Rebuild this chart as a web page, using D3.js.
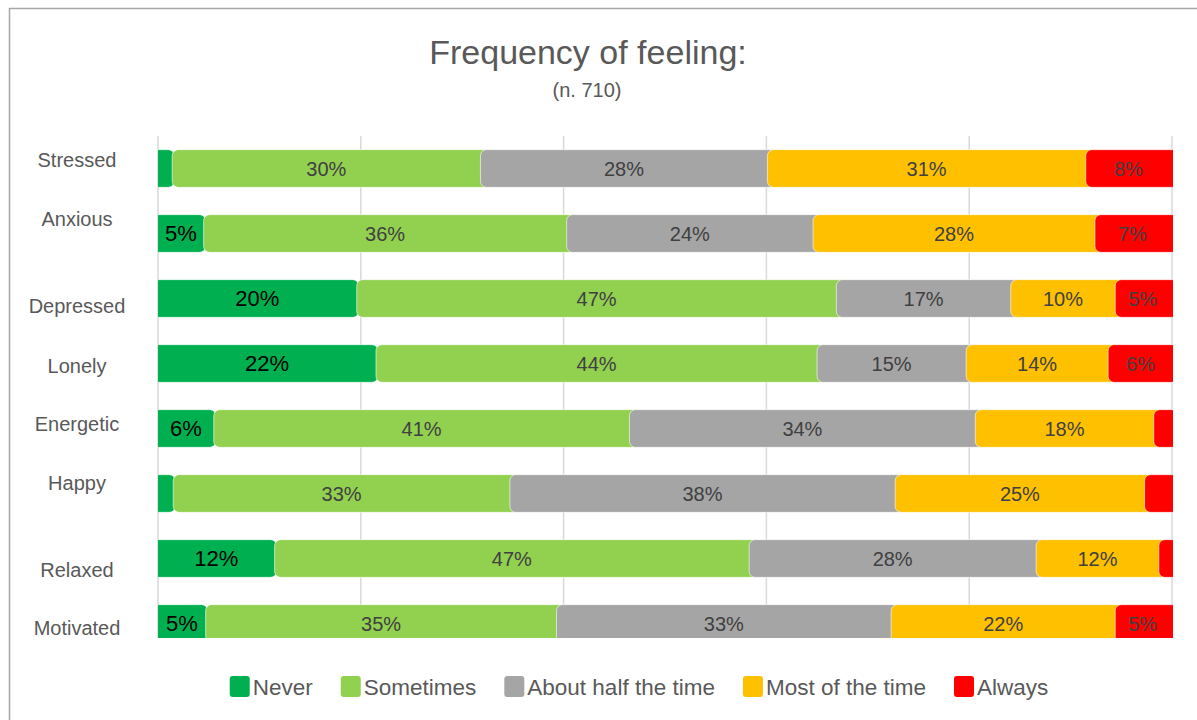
<!DOCTYPE html>
<head>
  <meta charset="utf-8">
  <script src="https://d3js.org/d3.v7.min.js"></script>
  <style>
  body { margin: 0; background: #fff; }
  #chart text { font-family: "Liberation Sans", Arial, sans-serif; }
  </style>
</head>

<body>
  <svg id="chart"></svg>
  <script>

    var feelings = ["Stressed", "Anxious", "Depressed", "Lonely", "Energetic", "Happy", "Relaxed", "Motivated"];
    var answers = ["Never", "Sometimes", "About half the time", "Most of the time", "Always"];

    // percent of respondents, one array per answer (same order as feelings)
    var never       = [1.4, 4.5, 19.6, 21.5, 5.5, 1.5, 11.5, 4.7];
    var sometimes   = [30.4, 35.8, 47.3, 43.5, 41.0, 33.2, 46.8, 34.6];
    var halfTime    = [28.3, 24.3, 17.2, 14.7, 34.1, 38.0, 28.3, 33.0];
    var mostOfTime  = [31.4, 27.8, 10.3, 14.0, 17.6, 24.6, 12.1, 22.1];
    var always      = [8.4, 7.4, 5.4, 6.4, 1.9, 2.7, 1.4, 5.4];

    var gridTicks = [0, 20, 40, 60, 80, 100];

    var colors = ["#00B050", "#92D050", "#A5A5A5", "#FFC000", "#FF0000"];
    var labelColors = ["#000000", "#404040", "#404040", "#404040", "#404040"];
    var labelSizes = ["22px", "20px", "20px", "20px", "20px"];
    // the category labels are not centred on their bars in the original
    var labelShift = [-9, -15, 7, 2, -5, -11, 11, 4];

    var width = 1197, height = 720;
    var svg = d3.select("#chart").attr("width", width).attr("height", height);

    var rows = feelings.map(function(f, i) {
      var r = { feeling: f };
      r[answers[0]] = never[i];
      r[answers[1]] = sometimes[i];
      r[answers[2]] = halfTime[i];
      r[answers[3]] = mostOfTime[i];
      r[answers[4]] = always[i];
      return r;
    });
    var series = d3.stack().keys(answers)(rows);

    var x = d3.scaleLinear().domain([0, 100]).range([158, 1172]);
    var y = d3.scaleBand().domain(feelings).range([136, 656])
        .paddingInner(0.42).paddingOuter(0.21);

    // outer chart border (only left/top visible)
    svg.append("rect")
        .attr("x", 9.5).attr("y", 8.5)
        .attr("width", 1300).attr("height", 800)
        .attr("fill", "none").attr("stroke", "#a6a6a6").attr("stroke-width", 1.5);

    svg.append("text")
        .attr("x", 588).attr("y", 64)
        .attr("text-anchor", "middle")
        .style("font-size", "34px").attr("fill", "#595959")
        .text("Frequency of feeling:");
    svg.append("text")
        .attr("x", 587).attr("y", 97)
        .attr("text-anchor", "middle")
        .style("font-size", "20px").attr("fill", "#595959")
        .text("(n. 710)");

    var clipTop = 136, clipBottom = 638;
    svg.append("clipPath").attr("id", "plot")
      .append("rect")
        .attr("x", x(0)).attr("y", clipTop)
        .attr("width", 1173 - x(0)).attr("height", clipBottom - clipTop);

    svg.append("g").selectAll("line")
        .data(gridTicks)
      .enter().append("line")
        .attr("x1", function(d) { return x(d); })
        .attr("x2", function(d) { return x(d); })
        .attr("y1", clipTop).attr("y2", clipBottom)
        .attr("stroke", "#d9d9d9").attr("stroke-width", 1.5);

    var plot = svg.append("g").attr("clip-path", "url(#plot)");

    var layer = plot.selectAll("g.layer")
        .data(series)
      .enter().append("g")
        .attr("class", "layer")
        .attr("fill", function(d, i) { return colors[i]; });

    // each segment runs a little under the next one so the rounded corners show
    layer.selectAll("rect")
        .data(function(d) { return d; })
      .enter().append("rect")
        .attr("x", function(d) { return d[0] === 0 ? x(0) - 10 : x(d[0]); })
        .attr("y", function(d) { return y(d.data.feeling); })
        .attr("width", function(d) { return x(d[1]) - x(d[0]) + 12; })
        .attr("height", y.bandwidth())
        .attr("rx", 6)
        .attr("stroke", "rgba(255,255,255,0.6)")
        .attr("stroke-width", 1);

    var labels = svg.append("g");
    series.forEach(function(s, si) {
      labels.selectAll(null)
          .data(s.filter(function(d) { return d[1] - d[0] >= 3; }))
        .enter().append("text")
          .attr("x", function(d) { return (x(d[0]) + x(d[1])) / 2; })
          .attr("y", function(d) { return y(d.data.feeling) + y.bandwidth() / 2; })
          .attr("dy", "0.36em")
          .attr("text-anchor", "middle")
          .style("font-size", labelSizes[si])
          .attr("fill", labelColors[si])
          .text(function(d) { return Math.round(d[1] - d[0]) + "%"; });
    });

    svg.append("g").selectAll("text")
        .data(feelings)
      .enter().append("text")
        .attr("x", 77)
        .attr("y", function(d, i) { return y(d) + y.bandwidth() / 2 + labelShift[i]; })
        .attr("dy", "0.36em")
        .attr("text-anchor", "middle")
        .style("font-size", "20px")
        .attr("fill", "#595959")
        .text(function(d) { return d; });

    // legend, centred under the chart
    var legend = svg.append("g");
    var item = legend.selectAll("g")
        .data(answers)
      .enter().append("g");
    item.append("rect")
        .attr("width", 20).attr("height", 21)
        .attr("y", 676).attr("rx", 3)
        .attr("fill", function(d, i) { return colors[i]; });
    item.append("text")
        .attr("x", 23).attr("y", 686.5)
        .attr("dy", "0.36em")
        .style("font-size", "22.5px")
        .attr("fill", "#595959")
        .text(function(d) { return d; });

    var offsets = [], cursor = 0;
    item.each(function() {
      offsets.push(cursor);
      cursor += 23 + d3.select(this).select("text").node().getComputedTextLength() + 28;
    });
    var total = cursor - 28, start = 639 - total / 2;
    item.attr("transform", function(d, i) { return "translate(" + (start + offsets[i]) + ",0)"; });

  </script>
</body>
